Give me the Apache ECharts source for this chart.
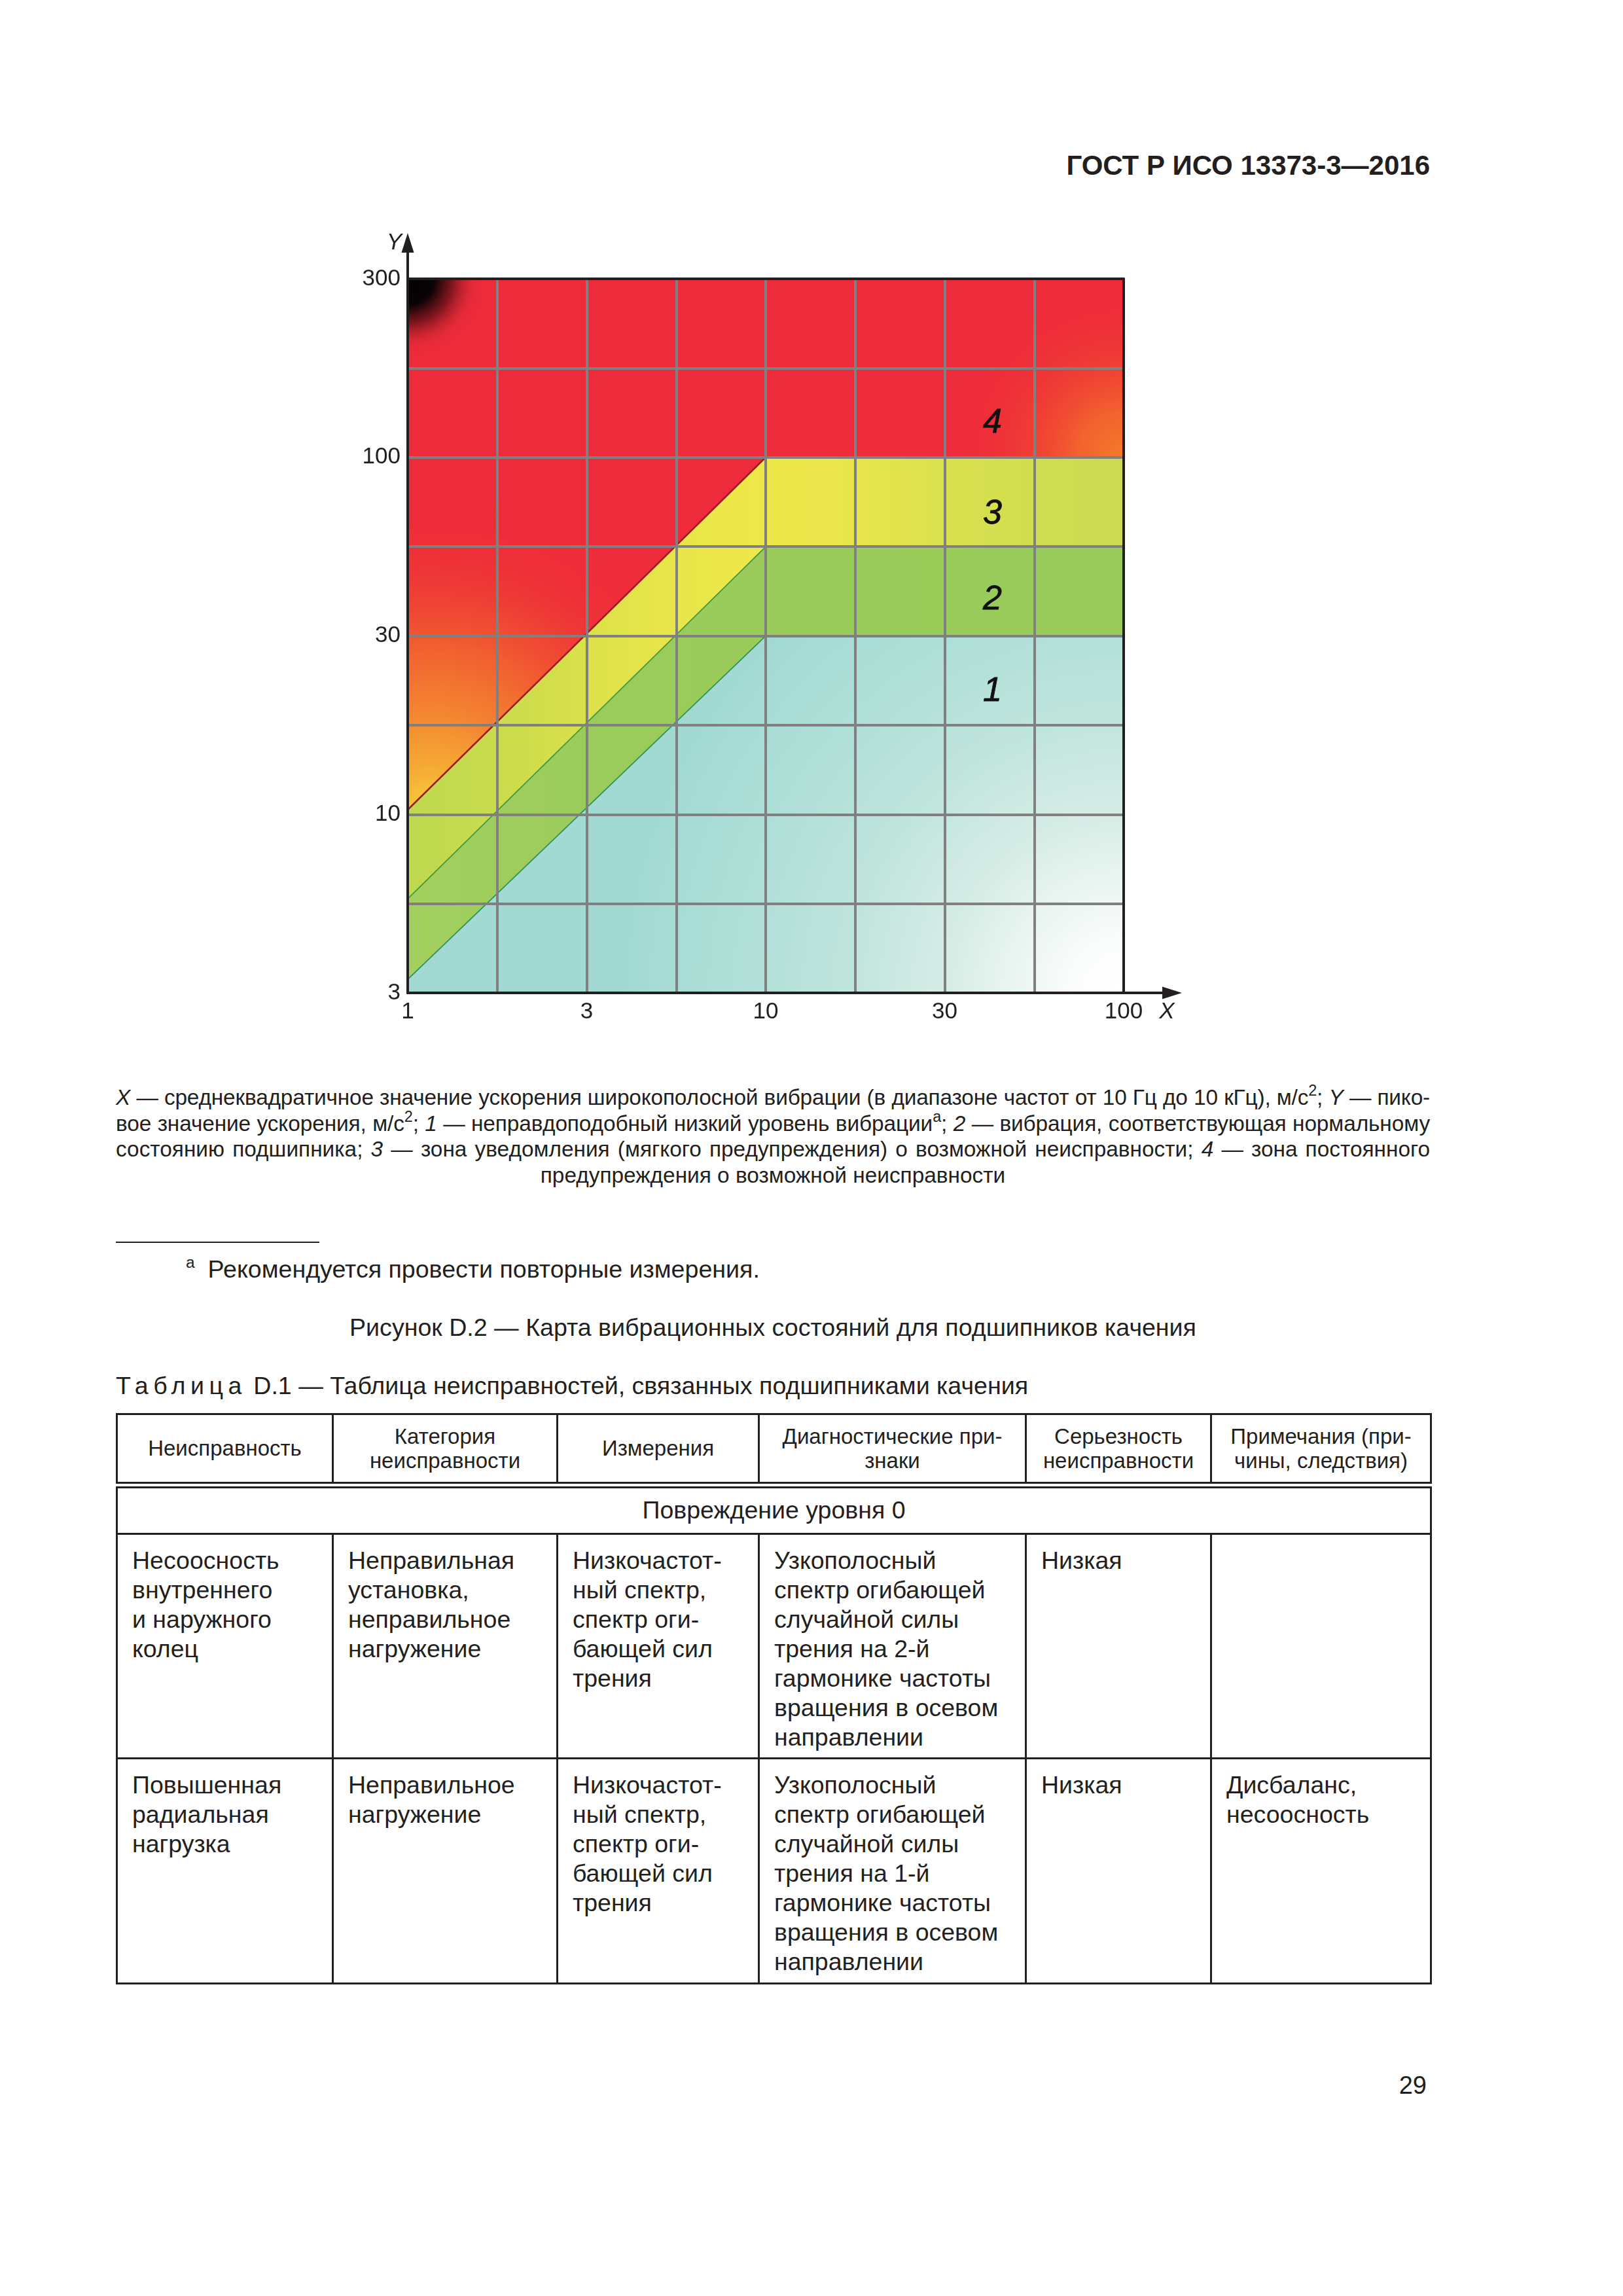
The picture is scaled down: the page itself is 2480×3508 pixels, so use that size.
<!DOCTYPE html>
<html lang="ru">
<head>
<meta charset="utf-8">
<title>Рисунок D.2 — Карта вибрационных состояний для подшипников качения</title>
<script src="https://cdn.jsdelivr.net/npm/echarts@6/dist/echarts.min.js"></script>
<style>
html,body{margin:0;padding:0;background:#ffffff;}
body{position:relative;width:2480px;height:3508px;overflow:hidden;font-family:"Liberation Sans",Arial,sans-serif;color:#231F20;}
#chart{position:absolute;left:0;top:0;width:2480px;height:1645px;}
.t{position:absolute;white-space:nowrap;}
#hdr{right:295px;top:229px;font-size:42px;line-height:48px;font-weight:bold;}
#cap{position:absolute;left:177px;top:1657px;width:2008px;font-size:33.4px;line-height:39.7px;}
.jl{position:relative;text-align:justify;text-align-last:justify;}
.cl{text-align:center;}
sup{font-size:0.7em;line-height:0;vertical-align:0.6em;}
#fnrule{position:absolute;left:177px;top:1897px;width:311px;height:2px;background:#231F20;}
#fn{left:284px;top:1917px;font-size:37.6px;line-height:44px;}
#fn sup{margin-right:20px;font-size:0.65em;}
#figt{position:absolute;left:177px;width:2008px;text-align:center;top:2006px;font-size:37.6px;line-height:44px;}
#tblt{left:177px;top:2095px;font-size:37.6px;line-height:44px;}
.sp{letter-spacing:7.5px;}
#tbl{position:absolute;left:177px;top:2159px;border-collapse:collapse;table-layout:fixed;width:2008px;}
#tbl td{border:3px solid #231F20;vertical-align:top;font-size:37.5px;line-height:45px;padding:17px 6px 0 22px;}
#tbl tr.hd td{font-size:33px;line-height:37px;text-align:center;vertical-align:middle;padding:0 4px;border-bottom:10px double #231F20;}
#tbl tr.grp td{text-align:center;vertical-align:middle;padding:0;}
#pg{right:300px;top:3164px;font-size:38px;line-height:44px;}
</style>
</head>
<body>
<div id="hdr" class="t">ГОСТ Р ИСО 13373-3—2016</div>
<div id="chart"></div>

<div id="cap">
<div class="jl"><i>X</i> — среднеквадратичное значение ускорения широкополосной вибрации (в диапазоне частот от 10 Гц до 10 кГц), м/с<sup>2</sup>; <i>Y</i> — пико-</div>
<div class="jl">вое значение ускорения, м/с<sup>2</sup>; <i>1</i> — неправдоподобный низкий уровень вибрации<sup>а</sup>; <i>2</i> — вибрация, соответствующая нормальному</div>
<div class="jl">состоянию подшипника; <i>3</i> — зона уведомления (мягкого предупреждения) о возможной неисправности; <i>4</i> — зона постоянного</div>
<div class="cl">предупреждения о возможной неисправности</div>
</div>

<div id="fnrule"></div>
<div id="fn" class="t"><sup>а</sup>Рекомендуется провести повторные измерения.</div>
<div id="figt">Рисунок D.2 — Карта вибрационных состояний для подшипников качения</div>
<div id="tblt" class="t"><span class="sp">Таблица</span> D.1 — Таблица неисправностей, связанных подшипниками качения</div>

<table id="tbl">
<colgroup><col style="width:330px"><col style="width:343px"><col style="width:308px"><col style="width:408px"><col style="width:283px"><col style="width:336px"></colgroup>
<tr class="hd" style="height:108px"><td>Неисправность</td><td>Категория<br>неисправности</td><td>Измерения</td><td>Диагностические при-<br>знаки</td><td>Серьезность<br>неисправности</td><td>Примечания (при-<br>чины, следствия)</td></tr>
<tr class="grp" style="height:75px"><td colspan="6">Повреждение уровня 0</td></tr>
<tr style="height:343px"><td>Несоосность<br>внутреннего<br>и наружного<br>колец</td><td>Неправильная<br>установка,<br>неправильное<br>нагружение</td><td>Низкочастот-<br>ный спектр,<br>спектр оги-<br>бающей сил<br>трения</td><td>Узкополосный<br>спектр огибающей<br>случайной силы<br>трения на 2-й<br>гармонике частоты<br>вращения в осевом<br>направлении</td><td>Низкая</td><td></td></tr>
<tr style="height:344px"><td>Повышенная<br>радиальная<br>нагрузка</td><td>Неправильное<br>нагружение</td><td>Низкочастот-<br>ный спектр,<br>спектр оги-<br>бающей сил<br>трения</td><td>Узкополосный<br>спектр огибающей<br>случайной силы<br>трения на 1-й<br>гармонике частоты<br>вращения в осевом<br>направлении</td><td>Низкая</td><td>Дисбаланс,<br>несоосность</td></tr>
</table>

<div id="pg" class="t">29</div>

<script>
// ---------- data ----------
const xTickLabels = ['1', '3', '10', '30', '100'];
const yTickLabels = ['3', '10', '30', '100', '300'];
// axis range (the schematic grid is a half-decade grid: "3" = sqrt(10))
const X_MIN = 1, X_MAX = 100;
const Y_MIN = Math.pow(10, 0.5), Y_MAX = Math.pow(10, 2.5);
const CELL_BASE = Math.pow(10, 0.25); // one grid cell = quarter decade

// zone boundaries [X, Y]
const boundary12 = [[1, 3.45], [10, 31.6], [100, 31.6]];   // zone 1 / zone 2
const boundary23 = [[1, 5.8], [10, 56.2], [100, 56.2]];    // zone 2 / zone 3
const boundary34 = [[1, 10.3], [10, 100], [100, 100]];     // zone 3 / zone 4

// zone number labels
const zoneNames = ['1', '2', '3', '4'];
const zoneLabelX = [43, 43, 43, 43];
const zoneLabelY = [22.1, 39.9, 69.2, 124.5];

// ---------- chart ----------
const FONT = '"Liberation Sans", Arial, sans-serif';
const INK = '#231F20';
const G = echarts.graphic;
const stops = arr => arr.map(([o, c]) => ({ offset: o, color: c }));

const zonePolys = [
  [[X_MIN, Y_MIN]].concat(boundary12, [[X_MAX, Y_MIN]]),
  boundary12.concat(boundary23.slice().reverse()),
  boundary23.concat(boundary34.slice().reverse()),
  boundary34.concat([[X_MAX, Y_MAX], [X_MIN, Y_MAX]])
];

function zoneFills(i, api) {
  if (i === 0) {
    const c = api.coord([X_MAX, Y_MIN]);
    return [new G.RadialGradient(c[0], c[1], 760, stops([
      [0, '#FFFFFF'], [0.1, '#FBFDFC'], [0.18, '#F0F8F4'], [0.36, '#D6ECE6'],
      [0.55, '#C0E5DD'], [0.73, '#B2E0D8'], [1, '#A2DAD3']]), true)];
  }
  if (i === 1) {
    return [new G.LinearGradient(0, 0, 1, 0, stops([
      [0, '#A3CF5F'], [0.25, '#9BCC5B'], [1, '#98CB59']]))];
  }
  if (i === 2) {
    return [new G.LinearGradient(0, 0, 1, 0, stops([
      [0, '#BDD84F'], [0.15, '#CCDC4C'], [0.3, '#E2E34A'], [0.45, '#EDE84A'],
      [0.6, '#EAE64B'], [0.75, '#DAE14E'], [0.88, '#D0DD50'], [1, '#CADB52']]))];
  }
  const a = api.coord([1.15, 10]);
  const b = api.coord([X_MIN, Y_MAX]);
  const d = api.coord(boundary34[2]);
  return [
    '#EE2B3A',
    new G.RadialGradient(a[0], a[1], 500, stops([
      [0, '#F8D43B'], [0.13, '#F6AE35'], [0.32, '#F38431'], [0.52, '#F15E30'],
      [0.78, 'rgba(238,58,52,0.45)'], [1, 'rgba(238,43,58,0)']]), true),
    new G.RadialGradient(d[0], d[1], 270, stops([
      [0, '#F47A2B'], [0.25, '#F2642D'], [0.55, 'rgba(240,75,48,0.55)'], [1, 'rgba(238,43,58,0)']]), true),
    new G.RadialGradient(b[0], b[1], 125, stops([
      [0, '#000000'], [0.32, '#0B0305'], [0.55, 'rgba(110,18,26,0.85)'],
      [0.8, 'rgba(210,38,52,0.35)'], [1, 'rgba(238,43,58,0)']]), true)
  ];
}

function renderZone(params, api) {
  const pts = zonePolys[params.dataIndex].map(p => api.coord(p));
  const fills = zoneFills(params.dataIndex, api);
  return {
    type: 'group',
    children: fills.map(f => ({ type: 'polygon', silent: true, shape: { points: pts }, style: { fill: f } }))
  };
}

const q = v => Math.round(Math.log10(v) * 4);
function fmtX(v) { const k = q(v) - q(X_MIN); return k % 2 === 0 && xTickLabels[k / 2] !== undefined ? xTickLabels[k / 2] : ''; }
function fmtY(v) { const k = q(v) - q(Y_MIN); return k % 2 === 0 && yTickLabels[k / 2] !== undefined ? yTickLabels[k / 2] : ''; }

const blackLine = { color: INK, width: 4 };
const gridLine = { color: '#808080', width: 4 };
const none = { show: false };

const option = {
  animation: false,
  backgroundColor: 'transparent',
  grid: [
    { left: 623, top: 426, width: 1094, height: 1091, outerBoundsMode: 'none', containLabel: false },
    { left: 623, top: 371, width: 1168, height: 1146, outerBoundsMode: 'none', containLabel: false }
  ],
  xAxis: [
    { gridIndex: 0, type: 'log', logBase: CELL_BASE, min: X_MIN, max: X_MAX, splitNumber: 8, position: 'bottom', z: 10,
      axisLine: { show: true, lineStyle: blackLine }, axisTick: none,
      axisLabel: { show: true, formatter: fmtX, fontSize: 35, fontFamily: FONT, color: INK, margin: 12, showMinLabel: true, showMaxLabel: true },
      splitLine: { show: true, lineStyle: gridLine } },
    { gridIndex: 0, type: 'log', logBase: CELL_BASE, min: X_MIN, max: X_MAX, splitNumber: 8, position: 'top', z: 11,
      axisLine: { show: true, lineStyle: blackLine }, axisTick: none, axisLabel: none, splitLine: none },
    { gridIndex: 1, type: 'value', min: 0, max: 1, position: 'bottom', z: 12,
      axisLine: { show: true, symbol: ['none', 'triangle'], symbolSize: [19, 30], lineStyle: blackLine },
      axisTick: none, axisLabel: none, splitLine: none,
      name: 'X', nameLocation: 'end', nameGap: -8,
      nameTextStyle: { fontSize: 35, fontStyle: 'italic', fontFamily: FONT, color: INK, align: 'center', verticalAlign: 'top', padding: [12, 0, 0, 0] } }
  ],
  yAxis: [
    { gridIndex: 0, type: 'log', logBase: CELL_BASE, min: Y_MIN, max: Y_MAX, splitNumber: 8, position: 'left', z: 10,
      axisLine: { show: true, lineStyle: blackLine }, axisTick: none,
      axisLabel: { show: true, formatter: fmtY, fontSize: 35, fontFamily: FONT, color: INK, margin: 11, showMinLabel: true, showMaxLabel: true },
      splitLine: { show: true, lineStyle: gridLine } },
    { gridIndex: 0, type: 'log', logBase: CELL_BASE, min: Y_MIN, max: Y_MAX, splitNumber: 8, position: 'right', z: 11,
      axisLine: { show: true, lineStyle: blackLine }, axisTick: none, axisLabel: none, splitLine: none },
    { gridIndex: 1, type: 'value', min: 0, max: 1, position: 'left', z: 12,
      axisLine: { show: true, symbol: ['none', 'triangle'], symbolSize: [19, 30], lineStyle: blackLine },
      axisTick: none, axisLabel: none, splitLine: none,
      name: 'Y', nameLocation: 'end', nameGap: 0,
      nameTextStyle: { fontSize: 35, fontStyle: 'italic', fontFamily: FONT, color: INK, align: 'right', verticalAlign: 'middle', padding: [0, 9, 0, 0] } }
  ],
  series: [
    { type: 'custom', xAxisIndex: 0, yAxisIndex: 0, z: 1, silent: true,
      data: zonePolys.map(p => p[0]), renderItem: renderZone },
    ...[boundary12, boundary23, boundary34].map((b, i) => ({
      type: 'line', xAxisIndex: 0, yAxisIndex: 0, z: 3, silent: true, symbol: 'none', data: b,
      lineStyle: { color: ['#2A935A', '#3C9A40', '#9E1B27'][i], width: [1.8, 1.8, 2.5][i] }
    })),
    { type: 'scatter', xAxisIndex: 0, yAxisIndex: 0, z: 20, silent: true, symbolSize: 2,
      itemStyle: { color: 'rgba(0,0,0,0)' },
      data: zoneNames.map((n, i) => ({ name: n, value: [zoneLabelX[i], zoneLabelY[i]] })),
      label: { show: true, position: 'inside', formatter: p => p.name, fontSize: 52, fontStyle: 'italic',
        fontFamily: FONT, color: '#111111', opacity: 1, textBorderWidth: 0.8, textBorderColor: '#111111' },
      labelLayout: { hideOverlap: false } }
  ]
};

const chart = echarts.init(document.getElementById('chart'), null, { renderer: 'canvas' });
chart.setOption(option);

// keep justified caption lines on one line each
function fitLines() {
  document.querySelectorAll('.jl').forEach(el => {
    const W = el.clientWidth;
    const probe = document.createElement('span');
    probe.innerHTML = el.innerHTML;
    probe.style.cssText = 'position:absolute;visibility:hidden;white-space:nowrap;left:0;top:0;';
    el.appendChild(probe);
    const w = probe.getBoundingClientRect().width;
    el.removeChild(probe);
    if (w > W - 4) el.style.letterSpacing = ((W - 4 - w) / el.textContent.length) + 'px';
  });
}
fitLines();
</script>
</body>
</html>
